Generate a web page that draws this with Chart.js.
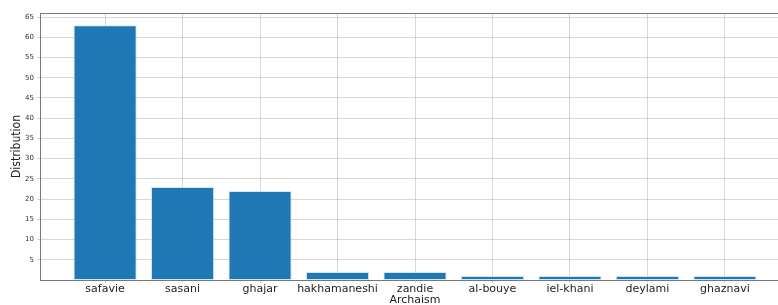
<!DOCTYPE html>
<html>
<head>
<meta charset="utf-8">
<script src="https://cdn.jsdelivr.net/npm/chart.js@4"></script>
<style>
html,body{margin:0;padding:0;background:#fff;overflow:hidden;width:778px;height:305px;}
#wrap{position:absolute;left:0;top:0;width:790px;height:305px;}
</style>
</head>
<body>
<div id="wrap"><canvas id="c" width="790" height="305"></canvas></div>
<script>
const categories = ['safavie','sasani','ghajar','hakhamaneshi','zandie','al-bouye','iel-khani','deylami','ghaznavi'];
const distribution = [63, 23, 22, 2, 2, 1, 1, 1, 1];
const yTickValues = [5,10,15,20,25,30,35,40,45,50,55,60,65];

const topSpine = {
  id: 'topSpine',
  afterDraw(chart) {
    const a = chart.chartArea, ctx = chart.ctx;
    ctx.save();
    ctx.strokeStyle = '#777';
    ctx.lineWidth = 1;
    ctx.beginPath();
    ctx.moveTo(a.left, a.top + 0.5);
    ctx.lineTo(a.right, a.top + 0.5);
    ctx.stroke();
    ctx.restore();
  }
};

new Chart(document.getElementById('c'), {
  type: 'bar',
  data: {
    datasets: [{
      data: distribution.map((v, i) => ({x: i, y: v})),
      backgroundColor: '#1f77b4',
      borderColor: 'rgba(190,220,245,0.7)',
      borderWidth: 1,
      borderSkipped: false,
      barPercentage: 0.815,
      categoryPercentage: 1.0
    }]
  },
  options: {
    responsive: false,
    animation: false,
    layout: {padding: {top: 13, right: 0, left: 10, bottom: 0}},
    plugins: {legend: {display: false}, tooltip: {enabled: false}},
    scales: {
      x: {
        type: 'linear',
        offset: false,
        min: -0.84,
        max: 8.84,
        z: 1,
        afterBuildTicks(s) { s.ticks = categories.map((c, i) => ({value: i})); },
        afterFit(s) { s.height = 25; },
        ticks: {
          callback: (v) => categories[v] ?? '',
          color: '#222',
          font: {family: 'DejaVu Sans', size: 11},
          padding: 0,
          maxRotation: 0,
          autoSkip: false
        },
        grid: {offset: false, color: 'rgba(176,176,176,0.5)', lineWidth: 1, tickLength: 3, drawTicks: true},
        border: {color: '#777', width: 1},
        title: {display: true, text: 'Archaism', color: '#222', font: {family: 'DejaVu Sans', size: 11}, padding: {top: 0, bottom: -2}}
      },
      y: {
        min: 0,
        max: 66,
        z: 1,
        afterBuildTicks(s) { s.ticks = yTickValues.map(v => ({value: v})); },
        afterFit(s) { s.width = 30; },
        ticks: {
          color: '#333',
          font: {family: 'DejaVu Sans', size: 7},
          padding: 3
        },
        grid: {color: 'rgba(176,176,176,0.5)', lineWidth: 1, tickLength: 3},
        border: {color: '#777', width: 1},
        title: {display: true, text: 'Distribution', color: '#222', font: {family: 'DejaVu Sans Condensed', size: 12}, padding: {top: 0, bottom: 0}}
      }
    }
  },
  plugins: [topSpine]
});
</script>
</body>
</html>
